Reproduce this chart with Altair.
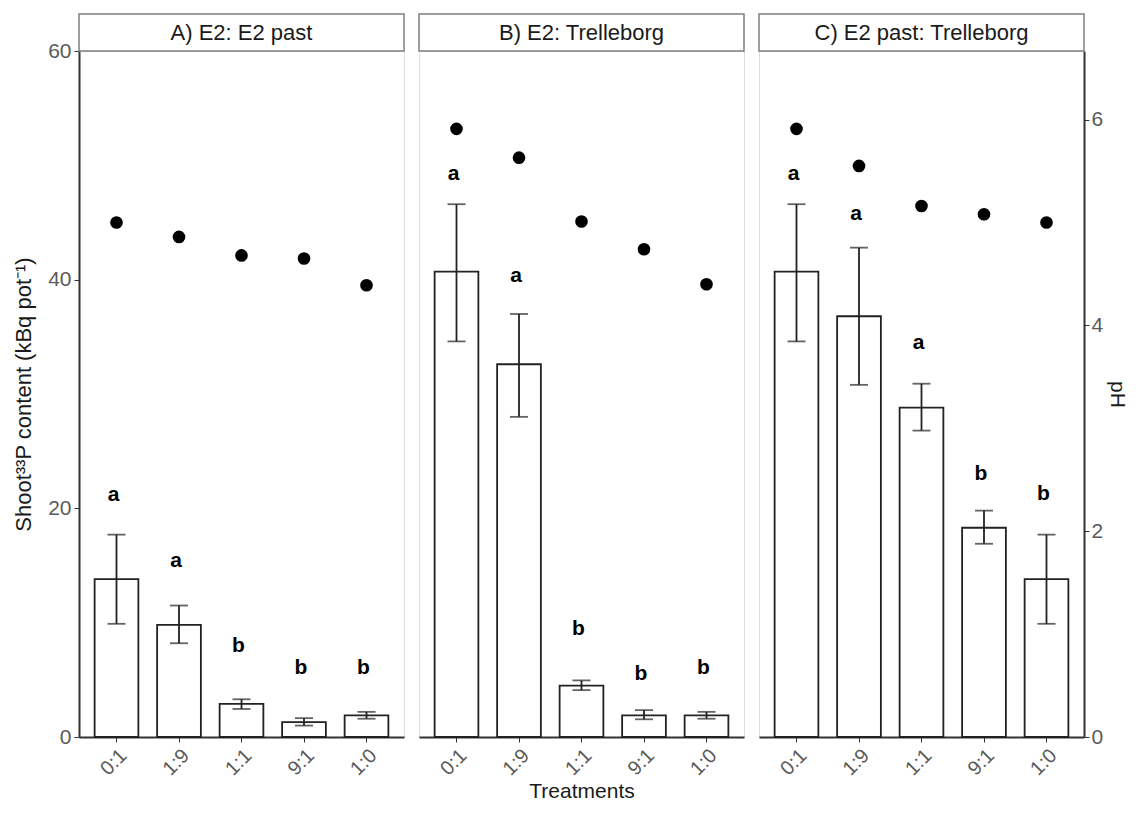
import altair as alt
import pandas as pd

treatments = ["0:1", "1:9", "1:1", "9:1", "1:0"]
panels = ["A) E2: E2 past", "B) E2: Trelleborg", "C) E2 past: Trelleborg"]

# Shoot 33P content (kBq pot-1): mean, lower and upper error bounds
mean_A = [13.8, 9.8, 2.9, 1.3, 1.9]
lo_A = [9.9, 8.2, 2.45, 1.0, 1.6]
hi_A = [17.7, 11.5, 3.3, 1.65, 2.2]
mean_B = [40.7, 32.6, 4.5, 1.9, 1.9]
lo_B = [34.6, 28.0, 4.1, 1.55, 1.6]
hi_B = [46.6, 37.0, 4.95, 2.35, 2.2]
mean_C = [40.7, 36.8, 28.8, 18.3, 13.8]
lo_C = [34.6, 30.8, 26.8, 16.9, 9.9]
hi_C = [46.6, 42.8, 30.9, 19.8, 17.7]

# pH (secondary axis)
ph_A = [5.00, 4.86, 4.68, 4.65, 4.39]
ph_B = [5.91, 5.63, 5.01, 4.74, 4.40]
ph_C = [5.91, 5.55, 5.16, 5.08, 5.00]

# significance letters and their baseline heights (left-axis units)
let_A = ["a", "a", "b", "b", "b"]
let_B = ["a", "a", "b", "b", "b"]
let_C = ["a", "a", "a", "b", "b"]
lety_A = [20.6, 14.9, 7.4, 5.55, 5.55]
lety_B = [48.7, 39.8, 8.9, 5.0, 5.55]
lety_C = [48.7, 45.2, 33.9, 22.5, 20.7]

data = {
    panels[0]: (mean_A, lo_A, hi_A, ph_A, let_A, lety_A),
    panels[1]: (mean_B, lo_B, hi_B, ph_B, let_B, lety_B),
    panels[2]: (mean_C, lo_C, hi_C, ph_C, let_C, lety_C),
}

FONT = "Liberation Sans"
W, H = 325, 686
LEFT_MAX = 60
PH_MAX = 60 / 9

xscale = alt.Scale(domain=treatments, paddingInner=0.3, paddingOuter=0.25)


def panel(name, idx):
    m, lo, hi, ph, let, ly = data[name]
    df = pd.DataFrame({"t": treatments, "mean": m, "lo": lo, "hi": hi,
                       "ph": ph, "let": let, "ly": ly})
    base = alt.Chart(df)
    x_axis = alt.Axis(labelAngle=-45, labelFontSize=20, labelColor="#5a5a5a",
                      labelFont=FONT, tickColor="#333333", tickSize=5,
                      domainColor="#333333", domainWidth=2, labelPadding=3,
                      title="Treatments" if idx == 1 else None,
                      titleFont=FONT, titleFontSize=21, titleFontWeight="normal",
                      titleColor="#1a1a1a", titlePadding=2)
    x = alt.X("t:N", sort=treatments, scale=xscale, axis=x_axis)
    yscale = alt.Scale(domain=[0, LEFT_MAX], nice=False, zero=True)
    if idx == 0:
        y_axis = alt.Axis(values=[0, 20, 40, 60], labelFontSize=21,
                          labelColor="#5a5a5a", labelFont=FONT,
                          tickColor="#333333", tickSize=5, domainColor="#333333",
                          domainWidth=2, grid=False, labelPadding=3,
                          title="Shoot³³P content (kBq pot⁻¹)", titleFont=FONT,
                          titleFontSize=22, titleFontWeight="normal",
                          titleColor="#1a1a1a", titlePadding=12)
    else:
        y_axis = None

    bars = base.mark_bar(fill="white", stroke="#222222", strokeWidth=1.8).encode(
        x=x, y=alt.Y("mean:Q", scale=yscale, axis=y_axis))
    rule = base.mark_rule(color="#222222", strokeWidth=1.8).encode(
        x=x, y=alt.Y("lo:Q", scale=yscale), y2="hi:Q")
    cap_lo = base.mark_tick(color="#222222", thickness=1.8, size=18).encode(
        x=x, y=alt.Y("lo:Q", scale=yscale))
    cap_hi = base.mark_tick(color="#222222", thickness=1.8, size=18).encode(
        x=x, y=alt.Y("hi:Q", scale=yscale))
    letters = base.mark_text(font=FONT, fontSize=21, fontWeight="bold",
                             color="black", baseline="alphabetic", dx=-3).encode(
        x=x, y=alt.Y("ly:Q", scale=yscale), text="let:N")

    strip = alt.Chart(pd.DataFrame({"label": [name]}))
    strip_box = strip.mark_rect(fill="white", stroke="#7f7f7f", strokeWidth=1.5).encode(
        x=alt.value(0), x2=alt.value(W), y=alt.value(-37), y2=alt.value(0))
    strip_text = strip.mark_text(font=FONT, fontSize=22, fontWeight="normal",
                                 color="#1a1a1a", baseline="middle",
                                 align="center").encode(
        x=alt.value(W / 2), y=alt.value(-18), text="label:N")

    left_layer = alt.layer(bars, rule, cap_lo, cap_hi, letters, strip_box, strip_text)

    if idx == 2:
        ph_axis = alt.Axis(orient="right", values=[0, 2, 4, 6], labelFontSize=21,
                           labelColor="#5a5a5a", labelFont=FONT,
                           tickColor="#333333", tickSize=5, domainColor="#333333",
                           domainWidth=2, grid=False, labelPadding=2,
                           title="pH", titleFont=FONT, titleFontSize=21,
                           titleFontWeight="normal", titleColor="#1a1a1a",
                           titlePadding=4)
    else:
        ph_axis = None
    points = base.mark_circle(size=160, color="black", opacity=1).encode(
        x=x, y=alt.Y("ph:Q", scale=alt.Scale(domain=[0, PH_MAX], nice=False),
                     axis=ph_axis))

    return alt.layer(left_layer, points).resolve_scale(y="independent").properties(
        width=W, height=H)


chart = alt.hconcat(*[panel(p, i) for i, p in enumerate(panels)], spacing=11).configure_view(
    stroke="#7f7f7f", strokeWidth=1.5).configure(padding={"left": 4, "top": 4, "right": 4, "bottom": 0})

chart.save("out.html", embed_options={"renderer": "svg", "actions": False})
